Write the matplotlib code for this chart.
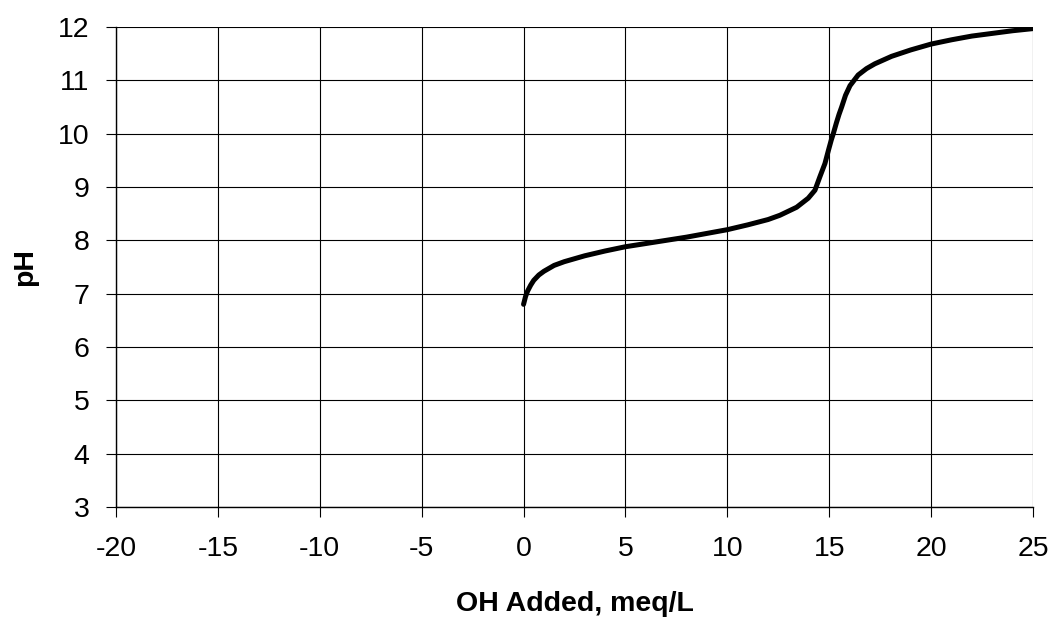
# titration curve: pH vs OH added
import matplotlib.pyplot as plt

plt.rcParams['font.family'] = ['Liberation Sans', 'DejaVu Sans']
plt.rcParams['axes.unicode_minus'] = False

oh_added = [0, 0.1, 0.2, 0.35, 0.5, 0.75, 1, 1.5, 2, 3, 4, 5, 6, 7, 8, 9, 10,
            11, 12, 12.58, 13.4, 13.97, 14.3, 14.54, 14.79, 14.97, 15.1, 15.2,
            15.35, 15.48, 15.61, 15.8, 16.02, 16.42, 16.83, 17.24, 18.06, 19,
            20, 21, 22, 23, 24, 25]
ph = [6.8, 6.95, 7.05, 7.16, 7.25, 7.35, 7.42, 7.53, 7.6, 7.71, 7.8, 7.88,
      7.94, 8.0, 8.06, 8.13, 8.2, 8.29, 8.39, 8.47, 8.62, 8.79, 8.94, 9.19,
      9.44, 9.7, 9.88, 10.0, 10.2, 10.36, 10.5, 10.72, 10.9, 11.1, 11.22,
      11.31, 11.45, 11.57, 11.68, 11.76, 11.83, 11.88, 11.93, 11.97]

x_ticks = list(range(-20, 26, 5))
y_ticks = list(range(3, 13))

fig = plt.figure(figsize=(10.55, 6.25), dpi=100)
ax = fig.add_axes([116 / 1055, 1 - 507 / 625, (1033 - 116) / 1055, (507 - 27) / 625])

ax.plot(oh_added, ph, color='black', linewidth=3.6, solid_capstyle='round',
        solid_joinstyle='round', zorder=3)

ax.set_xlim(-20, 25)
ax.set_ylim(3, 12)
ax.set_xticks(x_ticks)
ax.set_yticks(y_ticks)
ax.grid(True, color='black', linewidth=0.8)
ax.tick_params(direction='out', length=7, width=0.8, labelsize=20.5)
ax.tick_params(axis='x', pad=14)
ax.tick_params(axis='y', pad=12)
for side in ['top', 'right']:
    ax.spines[side].set_visible(False)
for side in ['left', 'bottom']:
    ax.spines[side].set_linewidth(1)

ax.set_xlabel('OH Added, meq/L', fontsize=20.5, fontweight='bold', labelpad=21)
ax.set_ylabel('pH', fontsize=20.5, fontweight='bold', labelpad=14)

fig.savefig('out.png', dpi=100)
